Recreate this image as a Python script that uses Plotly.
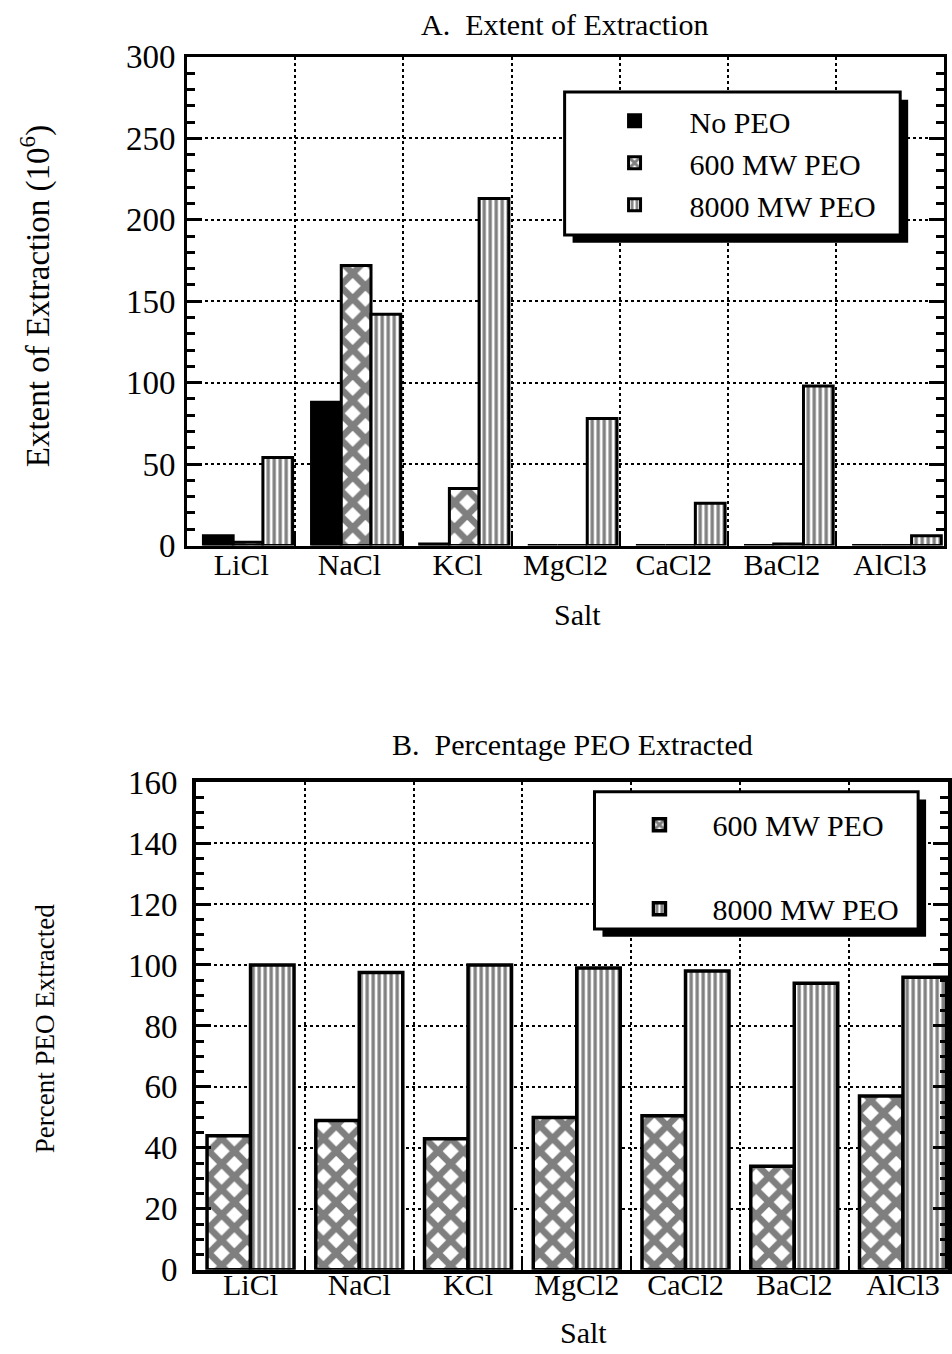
import plotly.graph_objects as go

# ---- data -------------------------------------------------------------
salts = ["LiCl", "NaCl", "KCl", "MgCl2", "CaCl2", "BaCl2", "AlCl3"]

# A. Extent of extraction (10^6)
extent_no_peo = [6, 88, 1, 0, 0, 0, 0]
extent_peo600 = [2, 172, 35, 0, 0, 1, 0]
extent_peo8000 = [54, 142, 213, 78, 26, 98, 6]

# B. Percentage of PEO extracted
pct_peo600 = [44, 49, 43, 50, 50.5, 34, 57]
pct_peo8000 = [100, 97.5, 100, 99, 98, 94, 96]

# ---- page geometry helpers (pixels -> paper fractions) ----------------
W, H = 952, 1354
FONT = "Liberation Serif, Times New Roman, serif"


def px(x):
    return x / W


def py(y):
    return 1 - y / H


PAT600 = dict(shape="x", size=18, solidity=0.6, fgcolor="black", bgcolor="white")
PAT8000 = dict(shape="|", size=6, solidity=0.55, fgcolor="black", bgcolor="white")

fig = go.Figure()

# ---- panel A ------------------------------------------------------------
bw_a = 0.275
fig.add_trace(go.Bar(x=salts, y=extent_no_peo, name="No PEO", xaxis="x", yaxis="y",
                     width=bw_a, offset=-0.35, marker=dict(color="black", line=dict(color="black", width=3)),
                     legend="legend", legendgroup="a1"))
fig.add_trace(go.Bar(x=salts, y=extent_peo600, name="600 MW PEO", xaxis="x", yaxis="y",
                     width=bw_a, offset=-0.075,
                     marker=dict(color="white", pattern=PAT600, line=dict(color="black", width=3)),
                     legend="legend", legendgroup="a2"))
fig.add_trace(go.Bar(x=salts, y=extent_peo8000, name="8000 MW PEO", xaxis="x", yaxis="y",
                     width=bw_a, offset=0.2,
                     marker=dict(color="white", pattern=PAT8000, line=dict(color="black", width=3)),
                     legend="legend", legendgroup="a3"))

# ---- panel B ------------------------------------------------------------
bw_b = 0.4
fig.add_trace(go.Bar(x=salts, y=pct_peo600, name="600 MW PEO", xaxis="x2", yaxis="y2",
                     width=bw_b, offset=-0.4,
                     marker=dict(color="white", pattern=PAT600, line=dict(color="black", width=3.5)),
                     legend="legend2", legendgroup="b1"))
fig.add_trace(go.Bar(x=salts, y=pct_peo8000, name="8000 MW PEO", xaxis="x2", yaxis="y2",
                     width=bw_b, offset=0.0,
                     marker=dict(color="white", pattern=PAT8000, line=dict(color="black", width=3.5)),
                     legend="legend2", legendgroup="b2"))

xtickfont = dict(family=FONT, size=30, color="black")
ytickfont = dict(family=FONT, size=33, color="black")


def cat_axis(domain, anchor, rng, lw, standoff, gw):
    return dict(domain=domain, anchor=anchor, type="category", range=rng,
                tickson="boundaries", ticks="inside", ticklen=12, tickwidth=2, tickcolor="black",
                showgrid=True, gridcolor="black", griddash="dot", gridwidth=gw,
                showline=True, linecolor="black", linewidth=lw, mirror=True,
                tickfont=xtickfont, ticklabelstandoff=standoff, zeroline=False)


def top_axis(over, anchor, rng):
    return dict(overlaying=over, anchor=anchor, side="top", type="linear", range=rng,
                showticklabels=False, showgrid=False, showline=False, zeroline=False,
                tickmode="linear", tick0=-0.5, dtick=1, ticks="inside", ticklen=10,
                tickwidth=2, tickcolor="black",
                minor=dict(ticks="inside", tick0=-0.5, dtick=0.2, ticklen=9, tickwidth=2,
                           tickcolor="black", showgrid=False))


def val_axis(domain, anchor, rng, dtick, minor_dtick, lw, standoff, gw):
    return dict(domain=domain, anchor=anchor, range=rng, tickmode="linear", tick0=0, dtick=dtick,
                ticks="inside", ticklen=15, tickwidth=3, tickcolor="black",
                minor=dict(ticks="inside", dtick=minor_dtick, ticklen=8, tickwidth=2.5,
                           tickcolor="black", showgrid=False),
                showgrid=True, gridcolor="black", griddash="dot", gridwidth=gw,
                showline=True, linecolor="black", linewidth=lw, mirror="ticks",
                tickfont=ytickfont, ticklabelstandoff=standoff, zeroline=False)


range_a = [-0.5, 6.5]
range_b = [-0.5, -0.5 + (W - 197) / 109.2]

fig.update_layout(
    xaxis=cat_axis([px(188), px(948)], "y", range_a, 3, -10, 1.5),
    yaxis=val_axis([py(543), py(41)], "x", [0, 300], 50, 10, 3, 2, 1.5),
    xaxis2=cat_axis([px(197), 1.0], "y2", range_b, 4, -15, 2.2),
    yaxis2=val_axis([py(1287), py(786)], "x2", [0, 160], 20, 5, 4, 8, 2.2),
    xaxis3=top_axis("x", "y", range_a),
    xaxis4=top_axis("x2", "y2", range_b),
)

# ---- legend boxes with drop shadows ---------------------------------
shapes = []
for (x0, y0, x1, y1, off) in [(567, 77, 904, 224, 8), (597, 796, 922, 937, 8)]:
    shapes.append(dict(type="rect", xref="paper", yref="paper", layer="above",
                       x0=px(x0 + off), x1=px(x1 + off), y0=py(y1 + off), y1=py(y0 + off),
                       fillcolor="black", line=dict(width=0)))
    shapes.append(dict(type="rect", xref="paper", yref="paper", layer="above",
                       x0=px(x0), x1=px(x1), y0=py(y1), y1=py(y0),
                       fillcolor="white", line=dict(color="black", width=3)))

legend_font = dict(family=FONT, size=30, color="black")
fig.update_layout(
    shapes=shapes,
    barmode="overlay",
    legend=dict(x=px(582), y=py(80), xanchor="left", yanchor="top", bgcolor="rgba(0,0,0,0)",
                borderwidth=0, font=legend_font, itemwidth=100, traceorder="grouped",
                tracegroupgap=0, itemclick=False),
    legend2=dict(x=px(609), y=py(803), xanchor="left", yanchor="top", bgcolor="rgba(0,0,0,0)",
                 borderwidth=0, font=legend_font, itemwidth=96, traceorder="grouped",
                 tracegroupgap=42, itemclick=False),
)

# ---- titles -------------------------------------------------------------
annotations = [
    dict(text="A.  Extent of Extraction", x=px(567), y=py(8), size=30),
    dict(text="Salt", x=px(580), y=py(614), size=30),
    dict(text="Extent of Extraction (10<sup>6</sup>)", x=px(36), y=py(287), textangle=-90, size=33),
    dict(text="B.  Percentage PEO Extracted", x=px(575), y=py(747), size=30),
    dict(text="Salt", x=px(586), y=py(1351), size=30),
    dict(text="Percent PEO Extracted", x=px(46), y=py(1039), textangle=-90, size=27),
]
for a in annotations:
    size = a.pop("size")
    a.update(xref="paper", yref="paper", showarrow=False,
             font=dict(family=FONT, size=size, color="black"),
             xanchor="center", yanchor="middle")
fig.update_layout(annotations=annotations)

fig.update_layout(width=W, height=H, margin=dict(l=0, r=0, t=0, b=0),
                  paper_bgcolor="white", plot_bgcolor="white", showlegend=True)

fig.write_html("out.html")
